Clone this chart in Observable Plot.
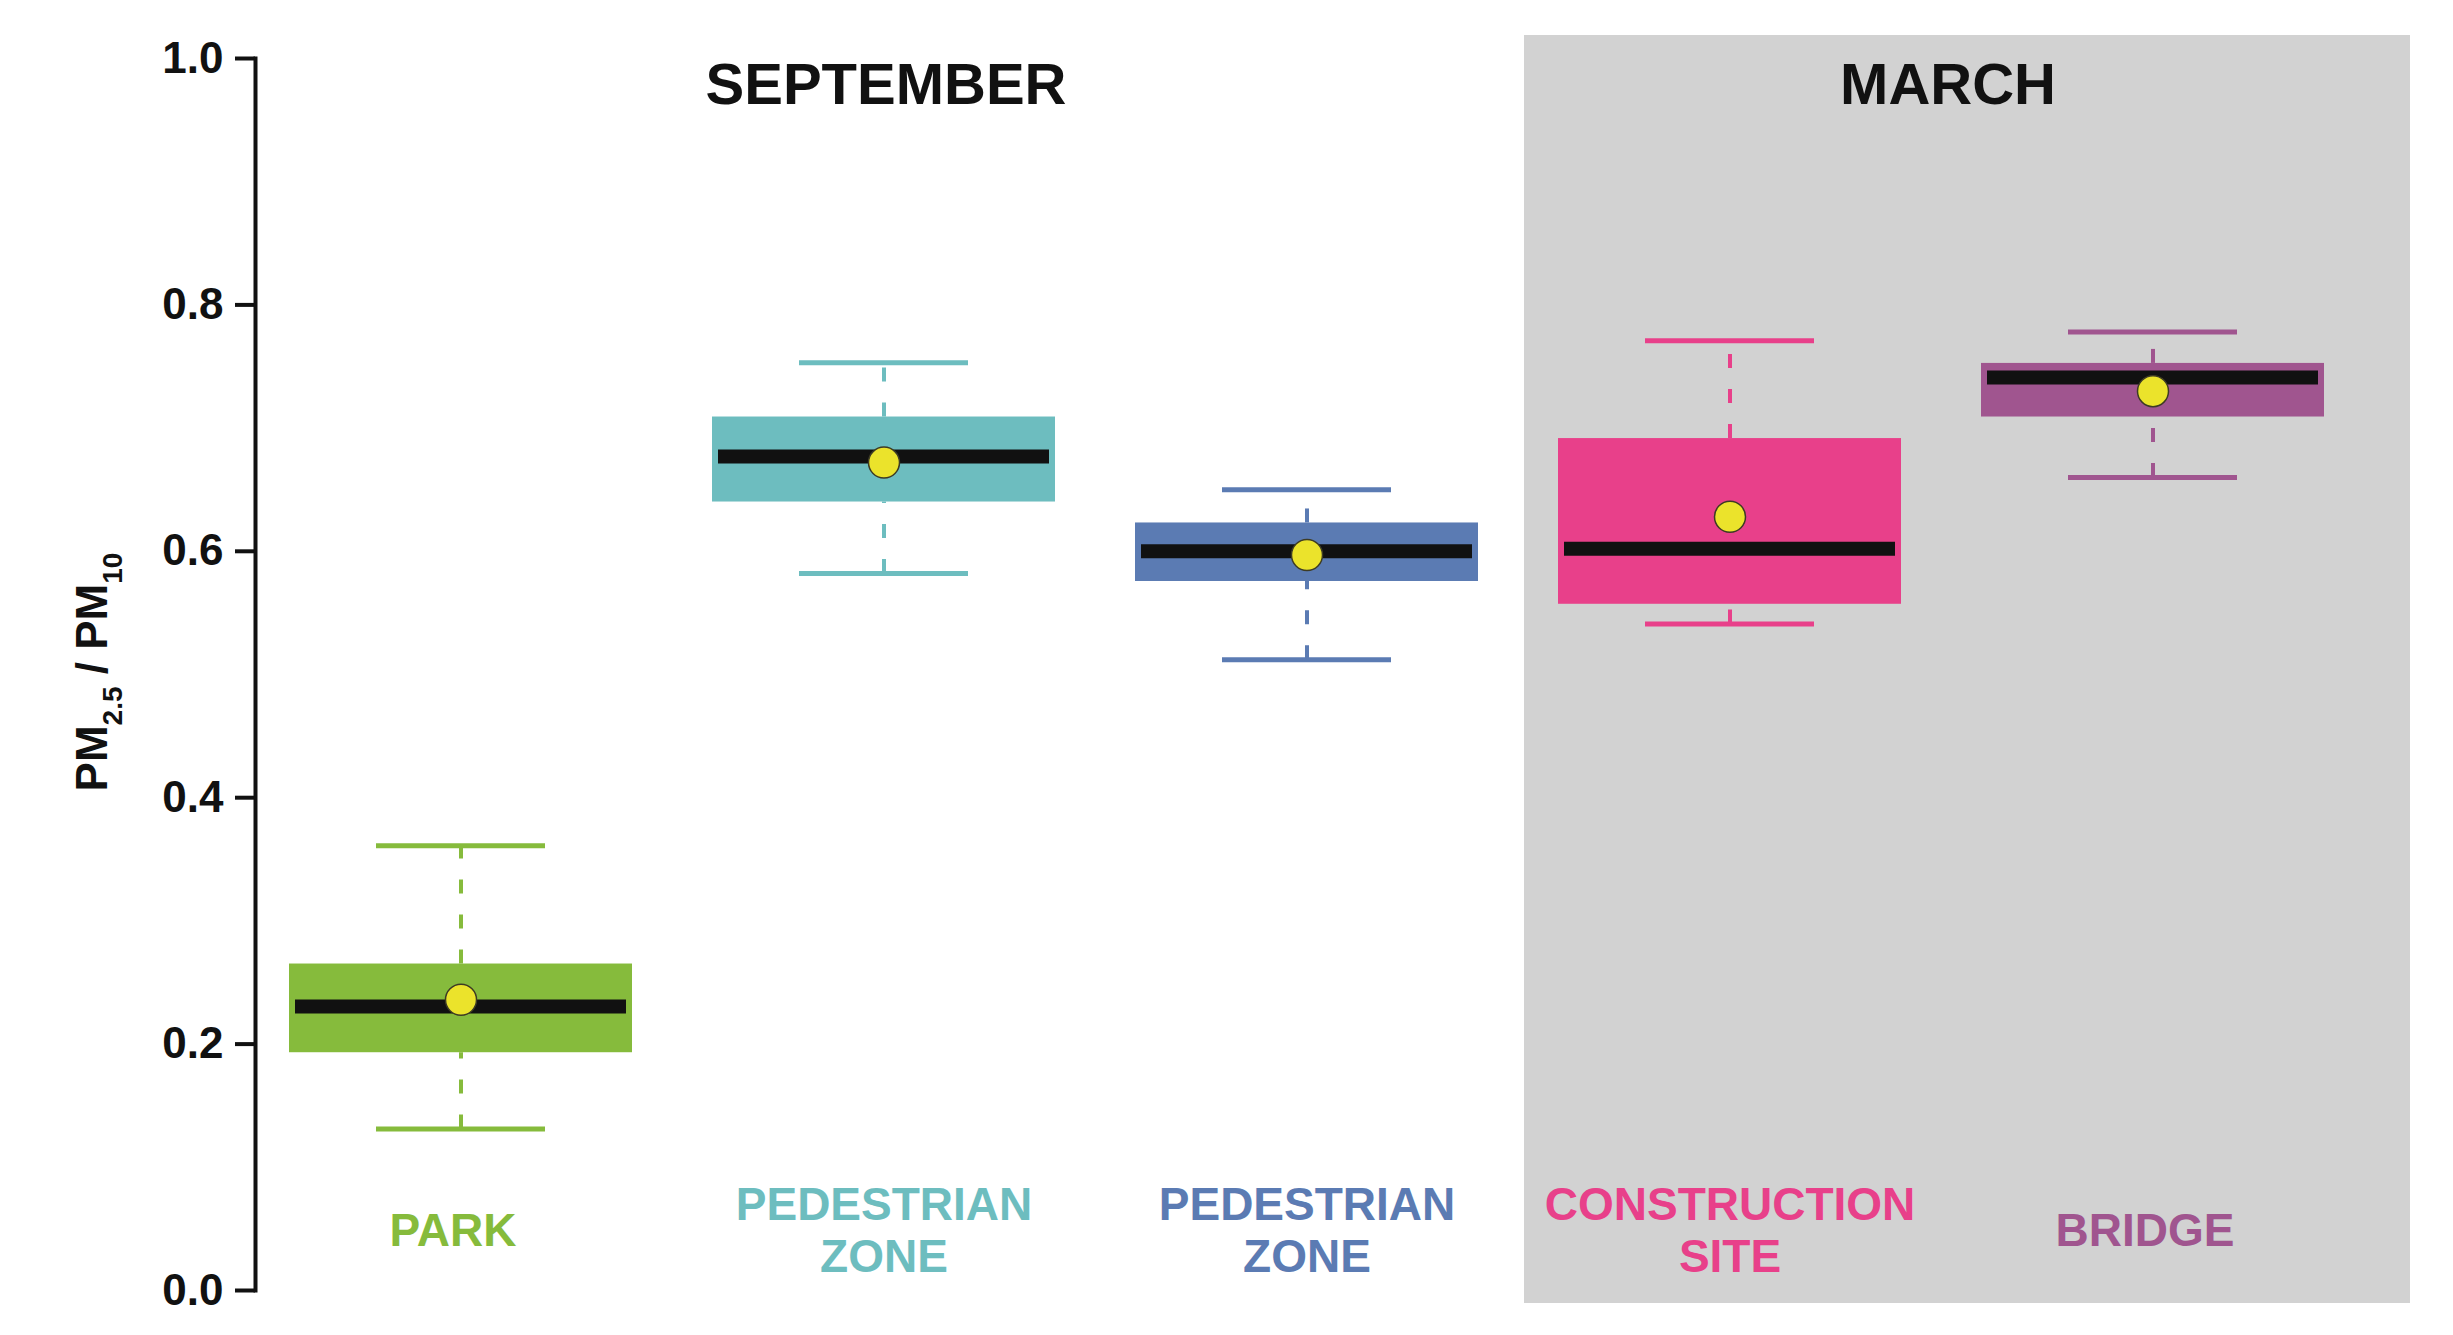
<!DOCTYPE html>
<html>
<head>
<meta charset="utf-8">
<script src="https://cdn.jsdelivr.net/npm/d3@7"></script>
<script src="https://cdn.jsdelivr.net/npm/@observablehq/plot@0.6"></script>
<style>
  html, body { margin: 0; padding: 0; background: #ffffff; }
  #chart svg { display: block; }
</style>
</head>
<body>
<div id="chart"></div>
<script>
// ---- data ----
const siteIds     = ["park", "pedestrian-sep-1", "pedestrian-sep-2", "construction", "bridge"];
const siteLabels  = ["PARK", "PEDESTRIAN\nZONE", "PEDESTRIAN\nZONE", "CONSTRUCTION\nSITE", "BRIDGE"];
const siteColors  = ["#86bb3c", "#6dbdbf", "#5b7bb3", "#e8408a", "#a0558f"];
const whiskerLow  = [0.131, 0.582, 0.512, 0.541, 0.660];
const quartile1   = [0.193, 0.640, 0.5755, 0.557, 0.709];
const medians     = [0.2305, 0.677, 0.600, 0.602, 0.741];
const quartile3   = [0.265, 0.709, 0.623, 0.6915, 0.7525];
const whiskerHigh = [0.361, 0.753, 0.650, 0.771, 0.778];
const means       = [0.236, 0.672, 0.597, 0.628, 0.730];
const periodNames = ["SEPTEMBER", "MARCH"];
const periodAt    = ["pedestrian-sep-1", "construction"];
const yTicks      = [0.0, 0.2, 0.4, 0.6, 0.8, 1.0];

const rows = siteIds.map((id, i) => ({
  id, label: siteLabels[i], color: siteColors[i],
  lo: whiskerLow[i], q1: quartile1[i], med: medians[i],
  q3: quartile3[i], hi: whiskerHigh[i], mean: means[i]
}));
const oneLine = rows.filter(d => !d.label.includes("\n"));
const twoLine = rows.filter(d => d.label.includes("\n"));

const FONT = "'Liberation Sans', Arial, Helvetica, sans-serif";
const labelStyle = {
  x: "id", text: "label", fill: d => d.color, frameAnchor: "bottom", lineAnchor: "middle",
  dy: -61, fontSize: 46, fontWeight: "bold", lineHeight: 1.13
};

const plot = Plot.plot({
  width: 2453,
  height: 1335,
  marginTop: 58,
  marginBottom: 45,
  marginLeft: 255,
  marginRight: 94,
  style: { fontFamily: FONT, background: "#ffffff", overflow: "visible" },
  x: { domain: siteIds, paddingInner: 0.188, paddingOuter: 0.078, axis: null },
  y: { domain: [0, 1], axis: null },
  color: { type: "identity" },
  marks: [
    // grey MARCH panel
    Plot.barY([periodAt[1]], {
      x: d => d, y1: 0, y2: 1, fill: "#d2d2d2",
      insetLeft: -34, insetRight: -509, insetTop: -23, insetBottom: -13
    }),
    // whiskers (dashed)
    Plot.ruleX(rows, { x: "id", y1: "q3", y2: "hi", stroke: d => d.color, strokeWidth: 4, strokeDasharray: "14,21" }),
    Plot.ruleX(rows, { x: "id", y1: "lo", y2: "q1", stroke: d => d.color, strokeWidth: 4, strokeDasharray: "14,21" }),
    // caps
    Plot.tickY(rows, { x: "id", y: "hi", stroke: d => d.color, strokeWidth: 5, insetLeft: 87, insetRight: 87 }),
    Plot.tickY(rows, { x: "id", y: "lo", stroke: d => d.color, strokeWidth: 5, insetLeft: 87, insetRight: 87 }),
    // boxes
    Plot.barY(rows, { x: "id", y1: "q1", y2: "q3", fill: d => d.color }),
    // medians
    Plot.tickY(rows, { x: "id", y: "med", stroke: "#111111", strokeWidth: 14, insetLeft: 6, insetRight: 6 }),
    // means
    Plot.dot(rows, { x: "id", y: "mean", r: 15.5, fill: "#ebe32b", stroke: "#3d3b24", strokeWidth: 1.5 }),
    // category labels
    Plot.text(twoLine, labelStyle),
    Plot.text(oneLine, { ...labelStyle, dx: -8 }),
    // period titles
    Plot.text([0], {
      x: () => periodAt[0], text: () => periodNames[0], frameAnchor: "top", lineAnchor: "bottom",
      dy: 45, dx: 2, fontSize: 58, fontWeight: "bold", fill: "#111111"
    }),
    Plot.text([1], {
      x: () => periodAt[1], text: () => periodNames[1], frameAnchor: "top", lineAnchor: "bottom",
      dy: 45, dx: 218, fontSize: 58, fontWeight: "bold", fill: "#111111"
    }),
    // y axis
    Plot.axisY({
      ticks: yTicks, tickFormat: d => d.toFixed(1), tickSize: 20, tickPadding: 12,
      fontSize: 44, fontWeight: "bold", strokeWidth: 4, color: "#111111", label: null
    }),
    Plot.frame({ anchor: "left", stroke: "#111111", strokeWidth: 4 })
  ]
});

// y-axis title with subscripts
const yScale = plot.scale("y");
const yc = yScale.apply(0.5);
const t = d3.select(plot).append("text")
  .attr("transform", `translate(107,${yc - 2}) rotate(-90)`)
  .attr("text-anchor", "middle")
  .attr("font-family", FONT)
  .attr("font-weight", "bold")
  .attr("font-size", 44)
  .attr("fill", "#111111")
  .style("white-space", "pre");
t.append("tspan").text("PM");
t.append("tspan").attr("font-size", 28).attr("dy", 15).text("2.5");
t.append("tspan").attr("dy", -15).text(" / PM");
t.append("tspan").attr("font-size", 28).attr("dy", 15).text("10");

document.getElementById("chart").appendChild(plot);
</script>
</body>
</html>
